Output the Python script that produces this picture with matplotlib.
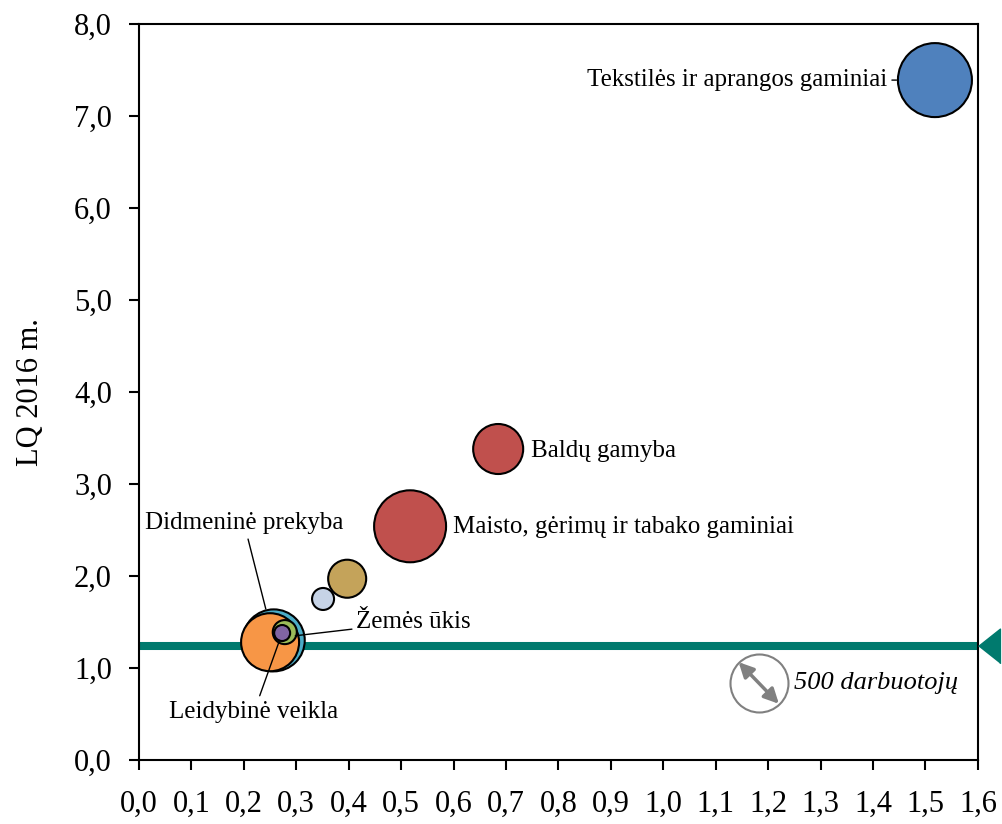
import numpy as np
import matplotlib.pyplot as plt
from matplotlib.transforms import offset_copy

plt.rcParams['font.family'] = ['Liberation Serif', 'DejaVu Serif']

# sektoriai (eiles tvarka = piešimo tvarka)
sectors = ["Tekstilės ir aprangos gaminiai", "Baldų gamyba",
           "Maisto, gėrimų ir tabako gaminiai", "", "",
           "Didmeninė prekyba", "", "Žemės ūkis", "Leidybinė veikla"]
x_vals = [1.518, 0.685, 0.517, 0.397, 0.351, 0.257, 0.250, 0.278, 0.273]
lq_2016 = [7.39, 3.38, 2.54, 1.97, 1.75, 1.30, 1.28, 1.39, 1.38]
employees = [814, 372, 770, 215, 72, 571, 500, 86, 38]
colors = ["#4F81BD", "#C0504D", "#C0504D", "#C4A35A", "#C6D3E6",
          "#4BACC6", "#F79646", "#9BBB59", "#8064A2"]

avg_lq = 1.24
legend_emp = 500

# 500 darbuotoju -> spindulys ~29 px
px = 0.72
k = (2 * 29 * px) ** 2 / legend_emp
sizes = [e * k for e in employees]

fig = plt.figure(figsize=(10.03, 8.24), dpi=100)
ax = fig.add_axes([0.1386, 0.0777, 0.8364, 0.8932])

ax.plot([0, 1.6], [avg_lq, avg_lq], color="#007A6E", lw=5.8, zorder=1,
        solid_capstyle='butt')
tri = [(-0.63, 0), (0.63, 1), (0.63, -1)]
ax.plot([1.621], [avg_lq], marker=tri, ms=25, color="#007A6E", clip_on=False,
        zorder=5)

ax.scatter(x_vals, lq_2016, s=sizes, c=colors, edgecolors='black',
           linewidths=1.5, zorder=3)

fs = 18


def rad_pt(e):
    return np.sqrt(e * k) / 2


# etiketes
ax.annotate(sectors[0], xy=(x_vals[0], lq_2016[0]), xytext=(1.428, 7.39),
            ha='right', va='center', fontsize=fs,
            arrowprops=dict(arrowstyle='-', color='black', lw=1,
                            shrinkA=1, shrinkB=rad_pt(employees[0]) + 1))
ax.text(0.748, 3.36, sectors[1], ha='left', va='center', fontsize=fs)
ax.text(0.599, 2.53, sectors[2], ha='left', va='center', fontsize=fs)
ax.annotate(sectors[5], xy=(x_vals[5], lq_2016[5]), xytext=(0.200, 2.58),
            ha='center', va='center', fontsize=fs,
            arrowprops=dict(arrowstyle='-', color='black', lw=1,
                            shrinkA=2, shrinkB=rad_pt(employees[5]) + 1))
ax.annotate(sectors[7], xy=(x_vals[7] + 0.02, lq_2016[7] - 0.04),
            xytext=(0.414, 1.50),
            ha='left', va='center', fontsize=fs,
            arrowprops=dict(arrowstyle='-', color='black', lw=1,
                            shrinkA=1, shrinkB=0))
ax.annotate(sectors[8], xy=(x_vals[8], lq_2016[8]), xytext=(0.219, 0.52),
            ha='center', va='center', fontsize=fs,
            arrowprops=dict(arrowstyle='-', color='black', lw=1,
                            shrinkA=2, shrinkB=rad_pt(employees[8])))

# dydzio legenda
lx, ly = 1.182, 0.837
ax.scatter([lx], [ly], s=[legend_emp * k], facecolors='white',
           edgecolors='#808080', linewidths=1.5, zorder=3)
tr_a = offset_copy(ax.transData, fig=fig, x=14.5, y=-15, units='points')
tr_b = offset_copy(ax.transData, fig=fig, x=-14.5, y=15, units='points')
ax.annotate("", xy=(lx, ly), xycoords=tr_a, xytext=(lx, ly), textcoords=tr_b,
            zorder=4,
            arrowprops=dict(arrowstyle='<|-|>', color='#808080', lw=2.5,
                            mutation_scale=22, shrinkA=0, shrinkB=0))
ax.text(1.249, ly, "500 darbuotojų", style='italic', ha='left', va='center',
        fontsize=19)

ax.set_xlim(0, 1.6)
ax.set_ylim(0, 8)
xt = np.arange(0, 1.61, 0.1)
yt = np.arange(0, 8.1, 1.0)
ax.set_xticks(xt)
ax.set_xticklabels([f"{v:.1f}".replace('.', ',') for v in xt])
ax.set_yticks(yt)
ax.set_yticklabels([f"{v:.1f}".replace('.', ',') for v in yt])
ax.tick_params(axis='both', direction='out', length=7.5, width=1.5,
               labelsize=22)
ax.tick_params(axis='x', pad=14)
ax.tick_params(axis='y', pad=12)
for s in ax.spines.values():
    s.set_linewidth(1.5)
ax.set_ylabel("LQ 2016 m.", fontsize=22, labelpad=21)

fig.savefig("out.png", dpi=100)
